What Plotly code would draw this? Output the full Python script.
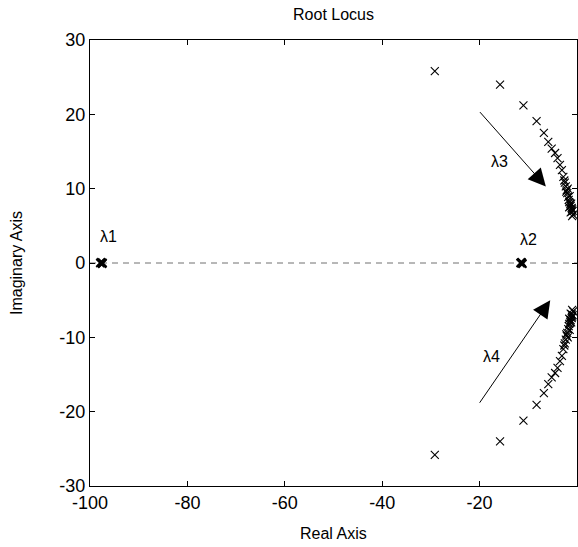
import plotly.graph_objects as go

# Real eigenvalues (many gains overlap)
lam1_re = [-97.9, -97.7, -97.5, -97.4, -97.6]
lam1_im = [0.0, 0.1, -0.1, 0.0, 0.0]
lam2_re = [-11.6, -11.4, -11.2, -11.5, -11.3]
lam2_im = [0.0, 0.1, -0.1, 0.0, 0.0]

# Complex pair (upper branch); lower branch is the conjugate
lam3_re = [-29.2, -15.8, -11.0, -8.3, -6.8, -5.9, -5.2, -4.5, -4.0, -3.5, -3.1, -2.8,
           -2.6, -2.5, -2.3, -2.1, -2.0, -1.8, -1.7, -1.6, -1.4, -1.3, -1.1, -1.0,
           -1.5, -2.2, -1.2, -0.9, -1.3, -0.8, -1.0, -1.9, -1.6, -1.1]
lam3_im = [25.8, 24.0, 21.2, 19.1, 17.5, 16.3, 15.4, 14.8, 14.1, 13.2, 12.5, 11.6,
           11.1, 10.8, 10.3, 9.8, 9.4, 8.9, 8.5, 8.2, 8.0, 7.7, 7.4, 7.2,
           9.0, 9.6, 8.0, 7.0, 6.8, 6.5, 6.3, 10.0, 7.5, 6.9]
lam4_re = list(lam3_re)
lam4_im = [-v for v in lam3_im]

x_ticks = [-100, -80, -60, -40, -20, 0]
y_ticks = [-30, -20, -10, 0, 10, 20, 30]

FONT = "Liberation Sans, Arial, sans-serif"
mk = dict(symbol="x-thin", size=8, line=dict(width=1.1, color="black"), color="black")
mk_b = dict(symbol="x-thin", size=8, line=dict(width=1.8, color="black"), color="black")

fig = go.Figure()
fig.add_shape(type="line", x0=-100, x1=0, y0=0, y1=0, xref="x", yref="y",
              line=dict(color="#707070", width=1, dash="6px,5px"), layer="below")
for xs, ys, m in [(lam1_re, lam1_im, mk_b), (lam2_re, lam2_im, mk_b),
                  (lam3_re, lam3_im, mk), (lam4_re, lam4_im, mk)]:
    fig.add_trace(go.Scatter(x=xs, y=ys, mode="markers", marker=m,
                             showlegend=False, hoverinfo="skip", cliponaxis=False))

annots = [
    dict(x=-96.3, y=3.6, text="λ1"),
    dict(x=-10.0, y=3.1, text="λ2"),
    dict(x=-16.0, y=13.6, text="λ3"),
    dict(x=-17.5, y=-12.6, text="λ4"),
]
for a in annots:
    fig.add_annotation(x=a["x"], y=a["y"], text=a["text"], showarrow=False,
                       xref="x", yref="y", font=dict(family=FONT, size=16, color="black"))

arrows = [((-20.2, 20.5), (-6.4, 10.3)), ((-20.2, -19.0), (-5.5, -5.0))]
for (sx, sy), (ex, ey) in arrows:
    fig.add_annotation(x=ex, y=ey, ax=sx, ay=sy, xref="x", yref="y", axref="x", ayref="y",
                       text="", showarrow=True, arrowhead=2, arrowsize=3.5, arrowwidth=1,
                       arrowcolor="black", standoff=0)

fig.add_annotation(text="Real Axis", xref="paper", yref="paper", x=0.5, y=0,
                   yshift=-47, showarrow=False, yanchor="middle",
                   font=dict(family=FONT, size=16, color="black"))
fig.add_annotation(text="Imaginary Axis", xref="paper", yref="paper", x=0, y=0.5,
                   xshift=-74, showarrow=False, textangle=-90, xanchor="center",
                   font=dict(family=FONT, size=16, color="black"))

axis_common = dict(showgrid=False, zeroline=False, showline=True, linecolor="black",
                   linewidth=1.2, mirror="ticks", ticks="inside", ticklen=5,
                   tickcolor="black", tickfont=dict(family=FONT, size=18, color="black"))
fig.update_xaxes(range=[-100, 0], tickvals=x_ticks, ticktext=[str(v) for v in x_ticks],
                 **axis_common)
fig.update_yaxes(range=[-30, 30], tickvals=y_ticks, ticktext=[str(v) for v in y_ticks],
                 **axis_common)

fig.update_layout(
    width=578, height=547,
    margin=dict(l=90, r=1, t=40, b=61),
    paper_bgcolor="white", plot_bgcolor="white",
    title=dict(text="Root Locus", x=(90 + 577) / 2 / 578, xanchor="center",
               y=1 - 14 / 547, yanchor="middle", yref="container",
               font=dict(family=FONT, size=16, color="black")),
)

fig.write_html("out.html")
